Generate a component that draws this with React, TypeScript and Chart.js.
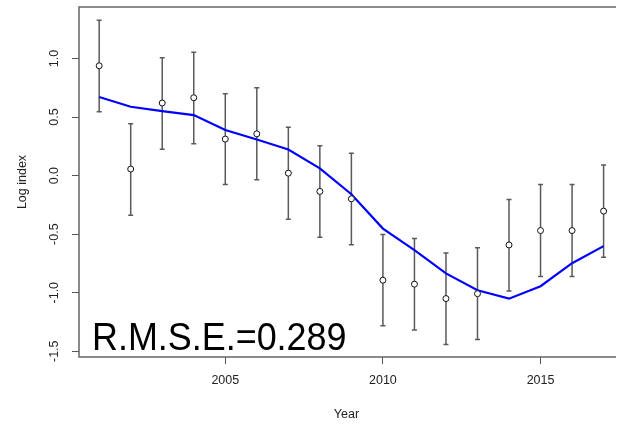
import { useEffect, useRef } from "react";
import { Chart, registerables } from "chart.js";

Chart.register(...registerables);

// Survey years and the observed log index with its confidence limits
const years = [2001, 2002, 2003, 2004, 2005, 2006, 2007, 2008, 2009, 2010, 2011, 2012, 2013, 2014, 2015, 2016, 2017];
const observed = [0.938, 0.056, 0.62, 0.665, 0.312, 0.357, 0.021, -0.135, -0.198, -0.893, -0.927, -1.05, -1.008, -0.592, -0.469, -0.469, -0.303];
const upper = [1.327, 0.443, 1.007, 1.053, 0.699, 0.75, 0.412, 0.256, 0.19, -0.502, -0.537, -0.66, -0.617, -0.203, -0.075, -0.075, 0.09];
const lower = [0.545, -0.338, 0.226, 0.272, -0.075, -0.036, -0.372, -0.526, -0.591, -1.282, -1.318, -1.443, -1.4, -0.985, -0.862, -0.862, -0.697];
// Model-fitted log index
const fitted = [0.671, 0.588, 0.551, 0.517, 0.389, 0.309, 0.223, 0.062, -0.159, -0.452, -0.636, -0.835, -0.979, -1.051, -0.944, -0.748, -0.602];

const xTicks = [2005, 2010, 2015];
const yTicks = [-1.5, -1.0, -0.5, 0.0, 0.5, 1.0];
const rmseLabel = "R.M.S.E.=0.289";

const FONT = "'Liberation Sans', Arial, Helvetica, sans-serif";

const framePlugin = {
  id: "frame",
  beforeDatasetsDraw(chart: any) {
    const { ctx, chartArea, scales } = chart;
    const x = scales.x;
    const y = scales.y;
    ctx.save();
    // confidence intervals with end caps
    ctx.strokeStyle = "#5a5a5a";
    ctx.lineWidth = 1.5;
    years.forEach((yr, i) => {
      const px = x.getPixelForValue(yr);
      const pt = y.getPixelForValue(upper[i]);
      const pb = y.getPixelForValue(lower[i]);
      ctx.beginPath();
      ctx.moveTo(px, pt);
      ctx.lineTo(px, pb);
      ctx.moveTo(px - 2.5, pt);
      ctx.lineTo(px + 2.5, pt);
      ctx.moveTo(px - 2.5, pb);
      ctx.lineTo(px + 2.5, pb);
      ctx.stroke();
    });
    ctx.restore();
  },
  afterDraw(chart: any) {
    const { ctx, chartArea, scales } = chart;
    const y = scales.y;
    ctx.save();
    // plot box (top, left, bottom)
    ctx.strokeStyle = "#666";
    ctx.lineWidth = 1.5;
    ctx.beginPath();
    ctx.moveTo(chartArea.right + 2, chartArea.top);
    ctx.lineTo(chartArea.left, chartArea.top);
    ctx.lineTo(chartArea.left, chartArea.bottom);
    ctx.lineTo(chartArea.right + 2, chartArea.bottom);
    ctx.stroke();

    // rotated y tick labels
    ctx.fillStyle = "#222";
    ctx.font = `12.5px ${FONT}`;
    ctx.textAlign = "center";
    ctx.textBaseline = "middle";
    y.ticks.forEach((t: any) => {
      const py = y.getPixelForValue(t.value);
      ctx.save();
      ctx.translate(chartArea.left - 24, py);
      ctx.rotate(-Math.PI / 2);
      ctx.fillText(Number(t.value).toFixed(1), 0, 0);
      ctx.restore();
    });

    // fit statistic
    ctx.fillStyle = "#000";
    ctx.font = `38px ${FONT}`;
    ctx.textAlign = "left";
    ctx.textBaseline = "alphabetic";
    ctx.save();
    ctx.translate(chartArea.left + 13, chartArea.bottom - 7);
    ctx.scale(0.945, 1);
    ctx.fillText(rmseLabel, 0, 0);
    ctx.restore();
    ctx.restore();
  },
};

export default function App() {
  const ref = useRef<HTMLCanvasElement | null>(null);

  useEffect(() => {
    if (!ref.current) return;
    const chart = new Chart(ref.current, {
      type: "scatter",
      data: {
        datasets: [
          {
            label: "Observed",
            data: years.map((yr, i) => ({ x: yr, y: observed[i] })),
            showLine: false,
            pointStyle: "circle",
            pointRadius: 3,
            pointBackgroundColor: "#fff",
            pointBorderColor: "#111",
            pointBorderWidth: 1,
            order: 0,
          },
          {
            label: "Fitted",
            type: "line",
            data: years.map((yr, i) => ({ x: yr, y: fitted[i] })),
            borderColor: "#0000ff",
            borderWidth: 2.2,
            pointRadius: 0,
            tension: 0,
            fill: false,
            order: 1,
          },
        ],
      },
      options: {
        responsive: false,
        animation: false,
        layout: { padding: { top: 7, right: 1, left: 0, bottom: 0 } },
        plugins: { legend: { display: false }, tooltip: { enabled: false } },
        scales: {
          x: {
            type: "linear",
            min: 2000.36,
            max: 2017.33,
            afterBuildTicks: (s: any) => {
              s.ticks = xTicks.map((v) => ({ value: v }));
            },
            afterFit: (s: any) => {
              s.height = 67;
            },
            border: { display: false },
            grid: { drawOnChartArea: false, drawTicks: true, tickLength: 7, color: "#555", lineWidth: 1 },
            ticks: {
              color: "#222",
              font: { family: FONT, size: 12.5 },
              padding: 9,
              maxRotation: 0,
              callback: (v: any) => String(v),
            },
            title: {
              display: true,
              text: "Year",
              color: "#222",
              font: { family: FONT, size: 12.5 },
              padding: { top: 0, bottom: 2 },
            },
          },
          y: {
            type: "linear",
            min: -1.549,
            max: 1.44,
            afterBuildTicks: (s: any) => {
              s.ticks = yTicks.map((v) => ({ value: v }));
            },
            afterFit: (s: any) => {
              s.width = 79;
            },
            border: { display: false },
            grid: { drawOnChartArea: false, drawTicks: true, tickLength: 7, color: "#555", lineWidth: 1 },
            ticks: { display: false },
            title: {
              display: true,
              text: "Log index",
              color: "#222",
              font: { family: FONT, size: 12.5 },
              padding: { top: 15, bottom: 0 },
            },
          },
        },
      },
      plugins: [framePlugin],
    });
    return () => chart.destroy();
  }, []);

  return (
    <div style={{ position: "fixed", left: 0, top: 0, width: 619, height: 424, background: "#fff" }}>
      <canvas ref={ref} width={619} height={424} style={{ display: "block" }} />
    </div>
  );
}
